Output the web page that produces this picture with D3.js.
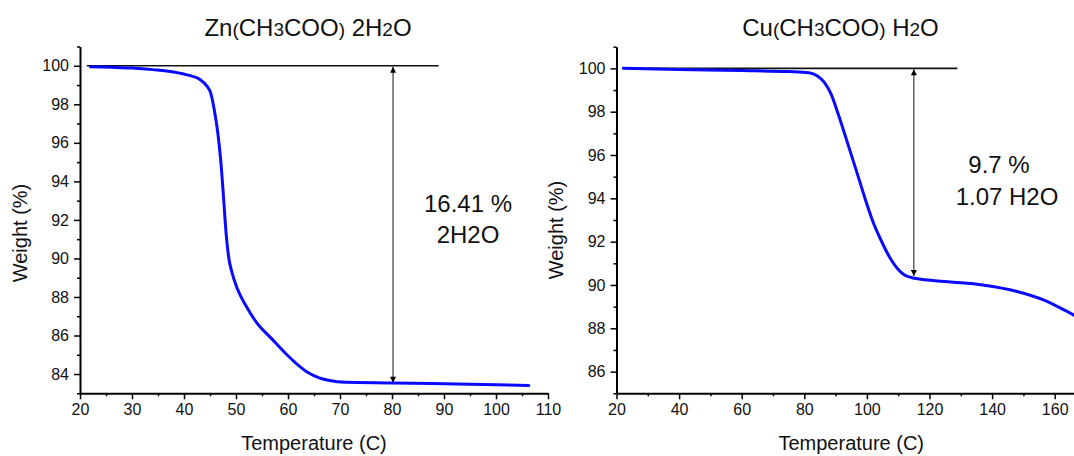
<!DOCTYPE html>
<html>
<head>
<meta charset="utf-8">
<script src="https://cdn.jsdelivr.net/npm/d3@7"></script>
<style>
  html, body { margin: 0; padding: 0; background: #fff; }
  svg { display: block; font-family: Arial, "Liberation Sans", sans-serif; }
</style>
</head>
<body>
<svg id="chart" width="1074" height="456"></svg>
<script>
// ---------- data ----------
const znTemp   = [22.0, 26, 30, 34, 38, 41, 43, 44.45, 45.14, 45.83, 46.51, 47.06, 47.54, 48.09, 48.57, 49.25, 50.3, 52.0, 54.0, 56.8, 59.6, 62, 64, 66, 68, 71, 80, 90, 100, 106.3];
const znWeight = [99.95, 99.92, 99.88, 99.8, 99.68, 99.5, 99.3, 98.93, 98.58, 97.7, 96.5, 95.1, 93.4, 91.33, 90.1, 89.25, 88.4, 87.5, 86.65, 85.85, 85.05, 84.45, 84.05, 83.8, 83.66, 83.57, 83.54, 83.5, 83.45, 83.4];

const cuTemp   = [22.2, 40, 60, 75, 81.5, 84.2, 86.4, 88.6, 90.8, 93.5, 96.8, 99.5, 101.6, 104.4, 107.6, 109.8, 112, 115.3, 126, 137, 148, 156.6, 163, 166.5];
const cuWeight = [100.0, 99.95, 99.9, 99.85, 99.8, 99.65, 99.35, 98.8, 97.9, 96.7, 95.2, 93.95, 93.05, 92.1, 91.2, 90.75, 90.46, 90.31, 90.15, 90.0, 89.7, 89.3, 88.85, 88.58];

const znXTicks = [20, 30, 40, 50, 60, 70, 80, 90, 100, 110];
const znYTicks = [84, 86, 88, 90, 92, 94, 96, 98, 100];
const cuXTicks = [20, 40, 60, 80, 100, 120, 140, 160];
const cuYTicks = [86, 88, 90, 92, 94, 96, 98, 100];

const znTitle = [["Zn", 0], ["(", 1], ["CH", 0], ["3", 1], ["COO", 0], [")", 1], [" 2H", 0], ["2", 1], ["O", 0]];
const cuTitle = [["Cu", 0], ["(", 1], ["CH", 0], ["3", 1], ["COO", 0], [")", 1], [" H", 0], ["2", 1], ["O", 0]];

const znLoss = ["16.41 %", "2H2O"];
const cuLoss = ["9.7 %", "1.07 H2O"];

// reference line / arrow (data coordinates)
const znRef = { x0: 21.3, x1: 89.0, y: 100, ax: 80.2, ay0: 100, ay1: 83.55 };
const cuRef = { x0: 22.2, x1: 128.9, y: 100, ax: 115.0, ay0: 100, ay1: 90.42 };

// ---------- drawing ----------
const svg = d3.select("#chart");
const defs = svg.append("defs");
["start", "end"].forEach(k => {
  defs.append("marker")
    .attr("id", "arr-" + k)
    .attr("viewBox", "0 0 10 10")
    .attr("refX", k === "end" ? 10 : 0).attr("refY", 5)
    .attr("markerWidth", 10).attr("markerHeight", 6)
    .attr("markerUnits", "userSpaceOnUse")
    .attr("orient", "auto")
    .append("path")
    .attr("d", k === "end" ? "M0,0 L10,5 L0,10 Z" : "M10,0 L0,5 L10,10 Z")
    .attr("fill", "#000");
});

function panel(cfg) {
  const g = svg.append("g");
  const x = d3.scaleLinear().domain(cfg.xDomain).range(cfg.xRange);
  const y = d3.scaleLinear().domain(cfg.yDomain).range(cfg.yRange);
  const tickFont = "16px";

  // minor ticks
  const xAxisMinor = d3.axisBottom(x).tickValues(cfg.xMinor).tickSize(3).tickFormat("");
  const yAxisMinor = d3.axisLeft(y).tickValues(cfg.yMinor).tickSize(3).tickFormat("");
  g.append("g").attr("transform", `translate(0,${cfg.yRange[0]})`).call(xAxisMinor)
    .call(s => s.select(".domain").remove())
    .selectAll("line").attr("stroke", "#000").attr("stroke-width", 1.5);
  g.append("g").attr("transform", `translate(${cfg.xRange[0]},0)`).call(yAxisMinor)
    .call(s => s.select(".domain").remove())
    .selectAll("line").attr("stroke", "#000").attr("stroke-width", 1.5);

  // major axes
  const xAxis = d3.axisBottom(x).tickValues(cfg.xTicks).tickSize(6).tickSizeOuter(0).tickPadding(4);
  const yAxis = d3.axisLeft(y).tickValues(cfg.yTicks).tickSize(6).tickSizeOuter(0).tickPadding(5);
  const gx = g.append("g").attr("transform", `translate(0,${cfg.yRange[0]})`).call(xAxis);
  const gy = g.append("g").attr("transform", `translate(${cfg.xRange[0]},0)`).call(yAxis);
  [gx, gy].forEach(a => {
    a.select(".domain").attr("stroke", "#000").attr("stroke-width", 2);
    a.selectAll(".tick line").attr("stroke", "#000").attr("stroke-width", 1.5);
    a.selectAll(".tick text").attr("font-size", tickFont).attr("fill", "#111")
      .attr("font-family", "Arial, 'Liberation Sans', sans-serif");
  });
  gx.selectAll(".tick text").attr("dy", "0.72em");

  // axis titles
  g.append("text")
    .attr("x", (cfg.xRange[0] + cfg.xRange[1]) / 2 + cfg.xLabelShift)
    .attr("y", 450)
    .attr("text-anchor", "middle").attr("font-size", "20px").attr("fill", "#111")
    .text("Temperature (C)");
  g.append("text")
    .attr("transform", `translate(${cfg.yLabelX},${cfg.yLabelY}) rotate(-90)`)
    .attr("text-anchor", "middle").attr("font-size", "20px").attr("fill", "#111")
    .text("Weight (%)");

  // title
  const t = g.append("text")
    .attr("x", cfg.titleX).attr("y", 36)
    .attr("text-anchor", "middle").attr("font-size", "24px").attr("fill", "#111");
  cfg.title.forEach(([s, small]) => {
    t.append("tspan").attr("font-size", small ? "19px" : "24px").text(s);
  });

  // reference line and arrow
  const r = cfg.ref;
  g.append("line")
    .attr("x1", x(r.x0)).attr("x2", x(r.x1))
    .attr("y1", y(r.y)).attr("y2", y(r.y))
    .attr("stroke", "#111").attr("stroke-width", 1.6);
  g.append("line")
    .attr("x1", x(r.ax)).attr("x2", x(r.ax))
    .attr("y1", y(r.ay0) + 1).attr("y2", y(r.ay1))
    .attr("stroke", "#111").attr("stroke-width", 1)
    .attr("marker-start", "url(#arr-start)")
    .attr("marker-end", "url(#arr-end)");

  // curve
  const line = d3.line().x((d, i) => x(cfg.tx[i])).y((d, i) => y(cfg.wy[i])).curve(d3.curveMonotoneX);
  g.append("path")
    .datum(cfg.tx)
    .attr("d", line)
    .attr("fill", "none").attr("stroke", "#0a0aff").attr("stroke-width", 3)
    .attr("stroke-linejoin", "round").attr("stroke-linecap", "round");

  // annotation
  cfg.loss.forEach((s, i) => {
    g.append("text")
      .attr("x", cfg.lossPos[i][0]).attr("y", cfg.lossPos[i][1])
      .attr("text-anchor", "middle").attr("font-size", "24px").attr("fill", "#111")
      .text(s);
  });
}

panel({
  xDomain: [20, 110], xRange: [80, 548],
  yDomain: [83, 101], yRange: [393.3, 46.5],
  xTicks: znXTicks, yTicks: znYTicks,
  xMinor: d3.range(25, 110, 10), yMinor: d3.range(83, 102, 2),
  tx: znTemp, wy: znWeight,
  title: znTitle, titleX: 308,
  ref: znRef, loss: znLoss, lossPos: [[468, 212], [468, 243]],
  xLabelShift: 0, yLabelX: 27, yLabelY: 233
});

panel({
  xDomain: [20, 170], xRange: [616.5, 1086],
  yDomain: [85, 101], yRange: [393.3, 46.7],
  xTicks: cuXTicks, yTicks: cuYTicks,
  xMinor: d3.range(30, 170, 20), yMinor: d3.range(85, 102, 2),
  tx: cuTemp, wy: cuWeight,
  title: cuTitle, titleX: 840.5,
  ref: cuRef, loss: cuLoss, lossPos: [[999, 173], [1007, 205]],
  xLabelShift: 0, yLabelX: 563, yLabelY: 230
});
</script>
</body>
</html>
